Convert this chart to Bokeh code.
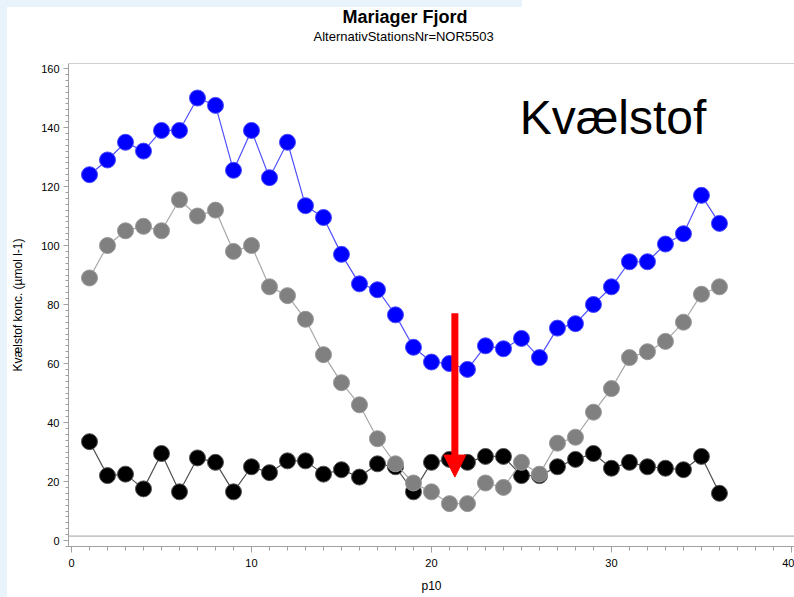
from bokeh.plotting import figure
from bokeh.models import Range1d, SingleIntervalTicker, Span, Label, Arrow, NormalHead, Title
from bokeh.embed import file_html
from bokeh.resources import INLINE

# ---- data ----
x_vals = list(range(1, 37))
blue_vals = [124, 129, 135, 132, 139, 139, 150, 147.5, 125.5, 139, 123, 135,
             113.5, 109.5, 97, 87, 85, 76.5, 65.5, 60.5, 60, 58, 66, 65,
             68.5, 62, 72, 73.5, 80, 86, 94.5, 94.5, 100.5, 104, 117, 107.5]
gray_vals = [89, 100, 105, 106.5, 105, 115.5, 110, 112, 98, 100, 86, 83,
             75, 63, 53.5, 46, 34.5, 26, 19.5, 16.5, 12.5, 12.5, 19.5, 18,
             26.5, 22.5, 33, 35, 43.5, 51.5, 62, 64, 67.5, 74, 83.5, 86]
black_vals = [33.5, 22, 22.5, 17.5, 29.5, 16.5, 28, 26.5, 16.5, 25, 23, 27,
              27, 22.5, 24, 21.5, 26, 25, 16.5, 26.5, 27.5, 26.5, 28.5, 28.5,
              22, 22, 25, 27.5, 29.5, 24.5, 26.5, 25, 24.5, 24, 28.5, 16]
arrow_x = 21.3
arrow_y_start = 77
arrow_y_end = 21.5

title_text = "Mariager Fjord"
subtitle_text = "AlternativStationsNr=NOR5503"
big_label = "Kvælstof"
x_label = "p10"
y_label = "Kvælstof konc. (µmol l-1)"

FONT = "Liberation Sans"
AXIS_GRAY = "#a0a0a0"
Y_TOP = 161.7

p = figure(width=794, height=597, output_backend="svg", toolbar_location=None,
           x_range=Range1d(-0.1667, 40.17), y_range=Range1d(-2.03, Y_TOP),
           min_border_left=68, min_border_right=0, min_border_top=63,
           min_border_bottom=51, title=None,
           background_fill_color="white", border_fill_color=None)
# light-blue page strips seen at the top-left and left edge of the reference
p.styles = {
    "background-color": "white",
    "background-image": "linear-gradient(#e8f3fc, #e8f3fc), linear-gradient(#e8f3fc, #e8f3fc)",
    "background-size": "7px 100%, 522px 7px",
    "background-repeat": "no-repeat",
    "background-position": "0 0, 0 0",
}
p.outline_line_color = None
p.xgrid.visible = False
p.ygrid.visible = False

# titles: stacked from the frame outward (spacer, subtitle, main title)
p.add_layout(Title(text=" ", text_font=FONT, text_font_size="12px", standoff=4), "above")
p.add_layout(Title(text=subtitle_text, align="left", offset=245, text_font=FONT,
                   text_font_size="13px", text_font_style="normal", text_color="black",
                   standoff=0), "above")
p.add_layout(Title(text=title_text, align="left", offset=274, text_font=FONT,
                   text_font_size="18px", text_font_style="bold", text_color="black",
                   standoff=0), "above")

for ax in (p.xaxis[0], p.yaxis[0]):
    ax.axis_line_color = AXIS_GRAY
    ax.major_tick_line_color = AXIS_GRAY
    ax.minor_tick_line_color = AXIS_GRAY
    ax.major_tick_in = 0
    ax.minor_tick_in = 0
    ax.major_label_text_font = FONT
    ax.major_label_text_font_size = "11px"
    ax.major_label_text_color = "black"
    ax.axis_label_text_font = FONT
    ax.axis_label_text_font_size = "12px"
    ax.axis_label_text_font_style = "normal"
    ax.axis_label_text_color = "black"

p.xaxis.ticker = SingleIntervalTicker(interval=10, num_minor_ticks=10)
p.yaxis.ticker = SingleIntervalTicker(interval=20, num_minor_ticks=10)
p.xaxis.major_tick_out = 6
p.xaxis.minor_tick_out = 4
p.yaxis.major_tick_out = 5
p.yaxis.minor_tick_out = 3
p.xaxis.major_label_standoff = 6
p.yaxis.major_label_standoff = 4
p.xaxis.axis_label = x_label
p.yaxis.axis_label = y_label
p.xaxis.axis_label_standoff = 9
p.yaxis.axis_label_standoff = 13

# frame top line and inner baseline line
p.add_layout(Span(location=Y_TOP, dimension="width", line_color=AXIS_GRAY, line_width=1))
p.add_layout(Span(location=1.5, dimension="width", line_color=AXIS_GRAY, line_width=1))

# series
p.line(x_vals, black_vals, line_color="#505050", line_width=1.2)
p.scatter(x_vals, black_vals, size=16, fill_color="black", line_color="#555555", line_width=1)
p.line(x_vals, gray_vals, line_color="#a8a8a8", line_width=1.2)
p.scatter(x_vals, gray_vals, size=16, fill_color="#808080", line_color="#9a9a9a", line_width=1)
p.line(x_vals, blue_vals, line_color="#5050ff", line_width=1.2)
p.scatter(x_vals, blue_vals, size=16, fill_color="#0000ff", line_color="#4a4aff", line_width=1)

p.add_layout(Label(x=24.9, y=143.3, text=big_label, text_font=FONT,
                   text_font_size="48px", text_color="black",
                   text_baseline="alphabetic", text_align="left"))

p.add_layout(Arrow(x_start=arrow_x, y_start=arrow_y_start, x_end=arrow_x, y_end=arrow_y_end,
                   line_color="#ff0000", line_width=7,
                   end=NormalHead(size=22, fill_color="#ff0000", line_color="#ff0000", line_width=1)))

open("out.html", "w").write(file_html(p, INLINE))
